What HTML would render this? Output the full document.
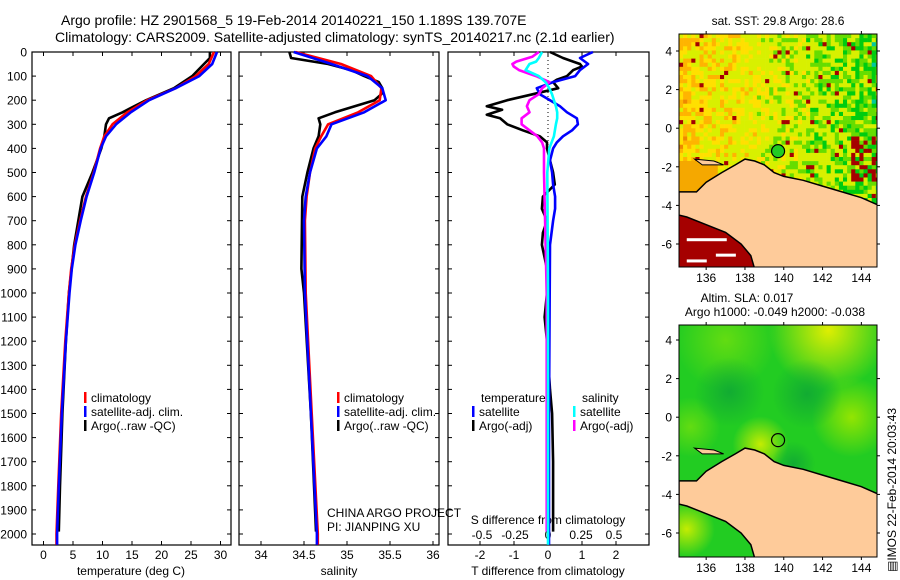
<!DOCTYPE html>
<html><head><meta charset="utf-8"><style>
html,body{margin:0;padding:0;background:#fff;}
svg{display:block;font-family:"Liberation Sans",sans-serif;}
</style></head><body>
<svg id="c" width="900" height="580" viewBox="0 0 900 580" xmlns="http://www.w3.org/2000/svg">
<text x="61" y="25" font-size="14">Argo profile: HZ 2901568_5 19-Feb-2014 20140221_150 1.189S 139.707E</text>
<text x="55" y="42" font-size="14">Climatology: CARS2009. Satellite-adjusted climatology: synTS_20140217.nc (2.1d earlier)</text>
</svg>
<script>
// ---------- data ----------
const tDepthClim=[0,50,100,150,200,250,300,350,400,500,600,700,800,900,1000,1200,1500,1800,2000,2045];
const tempClim=[28.9,28.0,25.8,22.4,17.6,14.2,11.7,10.3,9.6,8.5,7.2,6.2,5.3,4.7,4.3,3.7,3.0,2.5,2.2,2.2];
const tempSat=[29.4,28.6,26.4,22.4,17.9,14.8,12.3,10.6,9.7,8.6,7.3,6.3,5.4,4.8,4.4,3.8,3.1,2.6,2.3,2.3];
const tDepthArgo=[0,25,50,100,150,200,225,250,275,300,350,400,500,600,800,1000,1200,1500,1800,1990];
const tempArgo=[28.2,28.2,27.2,25.2,22.1,17.4,15.4,13.4,11.1,10.6,10.3,9.8,8.3,6.6,5.2,4.3,3.8,3.2,2.8,2.6];
const sDepth=[0,50,100,150,200,250,300,350,400,500,600,700,1000,1500,2000,2045];
const salClim=[34.40,34.93,35.28,35.40,35.38,35.13,34.78,34.70,34.63,34.57,34.53,34.51,34.52,34.59,34.66,34.66];
const salSat=[34.38,34.82,35.24,35.41,35.45,35.20,34.82,34.76,34.65,34.57,34.52,34.50,34.51,34.58,34.65,34.65];
const sDepthArgo=[0,25,50,75,100,125,150,175,200,225,250,275,300,350,400,500,600,900,1000,1500,1990];
const salArgo=[34.33,34.35,34.78,35.05,35.20,35.37,35.41,35.40,35.32,35.09,34.86,34.67,34.69,34.67,34.61,34.54,34.48,34.47,34.50,34.58,34.64];
const dDepthTSat=[0,25,50,75,100,125,150,175,200,225,250,275,300,325,350,375,400,450,500,550,600,650,700,800,1000,1500,2045];
const dTSat=[1.32,0.94,1.18,0.94,0.8,0.15,-0.33,-0.24,0.06,0.35,0.56,0.85,0.88,0.71,0.44,0.26,0.15,0.06,0.12,0.15,0.21,0.21,0.15,0.06,0.05,0.03,0.03];
const dDepthTArgo=[0,25,40,50,60,75,100,115,125,150,175,200,225,240,260,275,300,325,350,375,400,450,500,550,600,650,700,750,800,900,1000,1100,1200,1400,1500,1700,1990];
const dTArgo=[0.06,0.44,0.74,0.94,1.0,0.74,0.56,0.26,0.15,0.3,-0.44,-1.2,-1.8,-1.35,-1.8,-1.41,-1.2,-0.74,-0.24,-0.03,-0.03,0.06,0.15,0.2,-0.15,-0.18,-0.03,-0.15,-0.18,-0.03,-0.03,-0.1,-0.03,0.06,0.12,0.15,0.15];
const dDepthS=[0,25,40,50,75,100,125,150,175,200,225,250,275,300,350,400,500,1000,2045];
const dSSat=[-0.045,-0.07,-0.09,-0.14,-0.17,-0.07,-0.02,0.01,0.03,0.045,0.06,0.07,0.07,0.06,0.045,0.01,-0.005,0,0];
const dDepthSArgo=[0,20,40,50,60,75,100,125,140,150,175,200,225,250,275,300,325,350,375,400,500,1000,1990];
const dSArgo=[-0.07,-0.12,-0.24,-0.27,-0.26,-0.22,-0.09,0.01,-0.02,-0.045,-0.07,-0.14,-0.16,-0.14,-0.2,-0.2,-0.14,-0.08,-0.045,-0.03,-0.03,-0.01,-0.01];
const depthTicks=[0,100,200,300,400,500,600,700,800,900,1000,1100,1200,1300,1400,1500,1600,1700,1800,1900,2000];
const tempTicks=[0,5,10,15,20,25,30];
const salTicks=[34,34.5,35,35.5,36];
const salTickLabels=["34","34.5","35","35.5","36"];
const dTTicks=[-2,-1,0,1,2];
const dSTicks=[-0.5,-0.25,0,0.25,0.5];
const dSTickLabels=["-0.5","-0.25","0","0.25","0.5"];
const lonTicks=[136,138,140,142,144];
const latTicks=[-6,-4,-2,0,2,4];
const argoLon=139.707, argoLat=-1.189;

// ---------- scales ----------
const yD=d=>52+d*0.241;
const xT=t=>43.5+t*5.9;
const xS=s=>261+(s-34)*86;
const xDT=v=>548+v*34;
const xDS=v=>548+v*132;
const lonX=l=>679+(l-134.6)*19.4;
const latY1=a=>51+(4-a)*19.3;
const latY2=a=>340+(4-a)*19.3;

const NS="http://www.w3.org/2000/svg";
const svg=document.getElementById('c');
function mk(tag,attrs,parent){const e=document.createElementNS(NS,tag);for(const k in attrs)e.setAttribute(k,attrs[k]);(parent||svg).appendChild(e);return e;}
function txt(x,y,s,size,anchor,parent){const e=mk('text',{x:x,y:y,'font-size':size,'text-anchor':anchor||'start'},parent);e.textContent=s;return e;}

// ---------- profile panels ----------
const panels=[[32,231],[239,439],[448,649]];
const PT=52,PB=545;
panels.forEach((p,i)=>{
  const r=mk('rect',{x:p[0],y:PT,width:p[1]-p[0],height:PB-PT,fill:'none',stroke:'#000','stroke-width':1.2});
  
  
  depthTicks.forEach(d=>{
    mk('line',{x1:p[0],x2:p[0]+4,y1:yD(d),y2:yD(d),stroke:'#000'});
    mk('line',{x1:p[1]-4,x2:p[1],y1:yD(d),y2:yD(d),stroke:'#000'});
  });
});
depthTicks.forEach(d=>{
  const t=txt(27,yD(d)+4.5,String(d),12,'end');
  
  
});
function xticks(vals,labels,fx,ly,size){
  vals.forEach((v,i)=>{
    mk('line',{x1:fx(v),x2:fx(v),y1:PB-4,y2:PB,stroke:'#000'});
    mk('line',{x1:fx(v),x2:fx(v),y1:PT,y2:PT+4,stroke:'#000'});
    const t=txt(fx(v),ly,labels[i],size,'middle');
    
    
  });
}
xticks(tempTicks,tempTicks.map(String),xT,559,12);
xticks(salTicks,salTickLabels,xS,559,12);
xticks(dTTicks,dTTicks.map(String),xDT,559,12);
dSTicks.forEach((v,i)=>{
  const t=txt(xDS(v),539,dSTickLabels[i],12,'middle');
  
  
});
let t;
t=txt(131,575,'temperature (deg C)',12,'middle');
t=txt(339,575,'salinity',12,'middle');
t=txt(548,575,'T difference from climatology',12,'middle');
t=txt(548,524,'S difference from climatology',12,'middle');
t=txt(327,517,'CHINA ARGO PROJECT',12);
t=txt(327,531,'PI: JIANPING XU',12);

// zero dotted line
const zl=mk('line',{x1:xDT(0),x2:xDT(0),y1:PT,y2:PB,stroke:'#000','stroke-dasharray':'1,3'});



function series(depths,vals,fx,color,name){
  const pts=depths.map((d,i)=>fx(vals[i]).toFixed(1)+','+yD(d).toFixed(1)).join(' ');
  const e=mk('polyline',{points:pts,fill:'none',stroke:color,'stroke-width':2.6,'stroke-linejoin':'round'});
  
  
}
series(tDepthArgo,tempArgo,xT,'#000','temp-argo-line');
series(tDepthClim,tempClim,xT,'#f00','temp-climatology-line');
series(tDepthClim,tempSat,xT,'#00f','temp-satellite-line');
series(sDepthArgo,salArgo,xS,'#000','sal-argo-line');
series(sDepth,salClim,xS,'#f00','sal-climatology-line');
series(sDepth,salSat,xS,'#00f','sal-satellite-line');
series(dDepthTArgo,dTArgo,xDT,'#000','tdiff-argo-line');
series(dDepthTSat,dTSat,xDT,'#00f','tdiff-satellite-line');
series(dDepthSArgo,dSArgo,xDS,'#f0f','sdiff-argo-line');
series(dDepthS,dSSat,xDS,'#0ff','sdiff-satellite-line');

// legends
function leg(x,y,color,label,name){
  const g=mk('g',{});
  
  
  mk('rect',{x:x,y:y-10,width:2.5,height:11,fill:color},g);
  txt(x+7,y,label,12,'start',g);
}
leg(84,402,'#f00','climatology','legend-climatology');
leg(84,416,'#00f','satellite-adj. clim.','legend-satellite-adj');
leg(84,430,'#000','Argo(..raw -QC)','legend-argo');
leg(337,402,'#f00','climatology','legend-climatology-2');
leg(337,416,'#00f','satellite-adj. clim.','legend-satellite-adj-2');
leg(337,430,'#000','Argo(..raw -QC)','legend-argo-2');
t=txt(481,402,'temperature',12);
t=txt(582,402,'salinity',12);
leg(472,416,'#00f','satellite','legend-t-satellite');
leg(472,430,'#000','Argo(-adj)','legend-t-argo');
leg(573,416,'#0ff','satellite','legend-s-satellite');
leg(573,430,'#f0f','Argo(-adj)','legend-s-argo');

// ---------- maps ----------
const landPts=[[134.6,-3.3],[135.5,-3.3],[136,-2.8],[136.8,-2.3],[137.5,-1.9],[138,-1.6],[138.5,-1.7],[139,-1.9],[139.5,-2.3],[140,-2.5],[141,-2.7],[142,-3.0],[143,-3.3],[144,-3.6],[144.9,-4.0],[144.9,-7.3],[138.5,-7.3],[138.3,-6.6],[137.8,-6.0],[137,-5.4],[136,-5.0],[135,-4.6],[134.6,-4.5]];
function hash(i,j){let h=(i*374761393+j*668265263)|0;h=(h^(h>>>13))*1274126177|0;return ((h^(h>>>16))>>>0)/4294967296;}
function sstColor(v){
  if(v<0.04)return '#0a0a8c';if(v<0.08)return '#0096e6';if(v<0.13)return '#00c8a0';
  if(v<0.28)return '#00cc10';if(v<0.40)return '#66dd00';if(v<0.62)return '#d8f000';
  if(v<0.76)return '#ffe000';if(v<0.92)return '#ffb400';return '#ee8800';}
function drawMap(latY,top,bot,isSST,idx){
  const g=mk('g',{});
  
  
  mk('clipPath',{id:'clip'+idx},g);
  mk('rect',{x:679,y:top,width:198,height:bot-top},g.lastChild);
  const inner=mk('g',{'clip-path':'url(#clip'+idx+')'},g);
  if(isSST){
    const cs=4.1;
    for(let j=0;j*cs<bot-top;j++)for(let i=0;i*cs<198;i++){
      const x=679+i*cs,y=top+j*cs;
      const lon=134.6+i*cs/19.4;
      const lat=4.88-j*cs/19.3;
      let v=0.64-(lon-137)*0.045+(hash(i,j)-0.5)*0.38;
      let p=0.978;
      if(lon>143.3&&lat<-0.3&&lat>-2.6)p=0.55;
      if(hash(j+7,i+3)>p)v=2;
      let c=v>1.5?'#a50000':sstColor(v);
      mk('rect',{x:x.toFixed(1),y:y.toFixed(1),width:cs+0.3,height:cs+0.3,fill:c},inner);
    }
    mk('rect',{x:lonX(134.6),y:latY(-1.7),width:lonX(136.6)-lonX(134.6),height:latY(-3.4)-latY(-1.7),fill:'#f5a800'},inner);
    mk('polygon',{points:[[134.6,-4.5],[135,-4.6],[136,-5.0],[137,-5.4],[137.8,-6.0],[138.3,-6.6],[138.5,-7.3],[134.6,-7.3]].map(p=>lonX(p[0])+','+latY(p[1])).join(' '),fill:'#a50000'},inner);
    mk('rect',{x:lonX(135),y:latY(-5.7),width:40,height:3,fill:'#fff'},inner);
    mk('rect',{x:lonX(135),y:latY(-6.8),width:20,height:3,fill:'#fff'},inner);
    mk('rect',{x:lonX(136.5),y:latY(-6.5),width:20,height:3,fill:'#fff'},inner);
  }else{
    mk('rect',{x:679,y:top,width:198,height:bot-top,fill:'#22cc22'},inner);
    const blobs=[[142.3,4.5,60,'#e8f000'],[143.5,0,40,'#99e600'],[138.8,-1.4,28,'#ccee00'],[135.2,-0.5,30,'#66dd11'],[137,4,50,'#66dd11'],[135,-5.8,28,'#ccee00'],[141.2,1.2,35,'#11aa33'],[137.2,1.3,35,'#11aa33'],[140.5,-2.4,22,'#11aa33']];
    const defs=mk('defs',{},g);
    blobs.forEach((b,k)=>{
      const gr=mk('radialGradient',{id:'rg'+idx+'_'+k},defs);
      mk('stop',{offset:'0','stop-color':b[3],'stop-opacity':0.95},gr);
      mk('stop',{offset:'1','stop-color':b[3],'stop-opacity':0},gr);
      mk('circle',{cx:lonX(b[0]),cy:latY(b[1]),r:b[2],fill:'url(#rg'+idx+'_'+k+')'},inner);
    });
  }
  mk('polygon',{points:landPts.map(p=>lonX(p[0]).toFixed(1)+','+latY(p[1]).toFixed(1)).join(' '),fill:'#fecb9a',stroke:'#000','stroke-width':1.5},inner);
  mk('polygon',{points:[[135.4,-1.6],[136.4,-1.7],[136.9,-1.9],[135.8,-1.9]].map(p=>lonX(p[0])+','+latY(p[1])).join(' '),fill:'#fecb9a',stroke:'#000'},inner);
  const m=mk('circle',{cx:lonX(argoLon),cy:latY(argoLat),r:6.5,fill:isSST?'#22cc22':'none',stroke:'#000','stroke-width':1.2},g);
  
  
  mk('rect',{x:679,y:top,width:198,height:bot-top,fill:'none',stroke:'#000'},g);
  lonTicks.forEach(l=>{
    mk('line',{x1:lonX(l),x2:lonX(l),y1:top-3,y2:top,stroke:'#000'},g);
    mk('line',{x1:lonX(l),x2:lonX(l),y1:bot,y2:bot+3,stroke:'#000'},g);
    txt(lonX(l),bot+15,String(l),12,'middle',g);
  });
  latTicks.forEach(a=>{
    mk('line',{x1:676,x2:679,y1:latY(a),y2:latY(a),stroke:'#000'},g);
    mk('line',{x1:877,x2:880,y1:latY(a),y2:latY(a),stroke:'#000'},g);
    txt(672,latY(a)+4.5,String(a),12,'end',g);
  });
}
drawMap(latY1,34,267,true,1);
drawMap(latY2,325,557,false,2);
t=txt(778,25,'sat. SST: 29.8 Argo: 28.6',12,'middle');
t=txt(747,302,'Altim. SLA: 0.017',12,'middle');
t=txt(775,316,'Argo h1000: -0.049 h2000: -0.038',12,'middle');
t=txt(0,0,'\u25A4IMOS 22-Feb-2014 20:03:43',12,'start');
t.setAttribute('transform','translate(896,572) rotate(-90)');


</script>
</body></html>
